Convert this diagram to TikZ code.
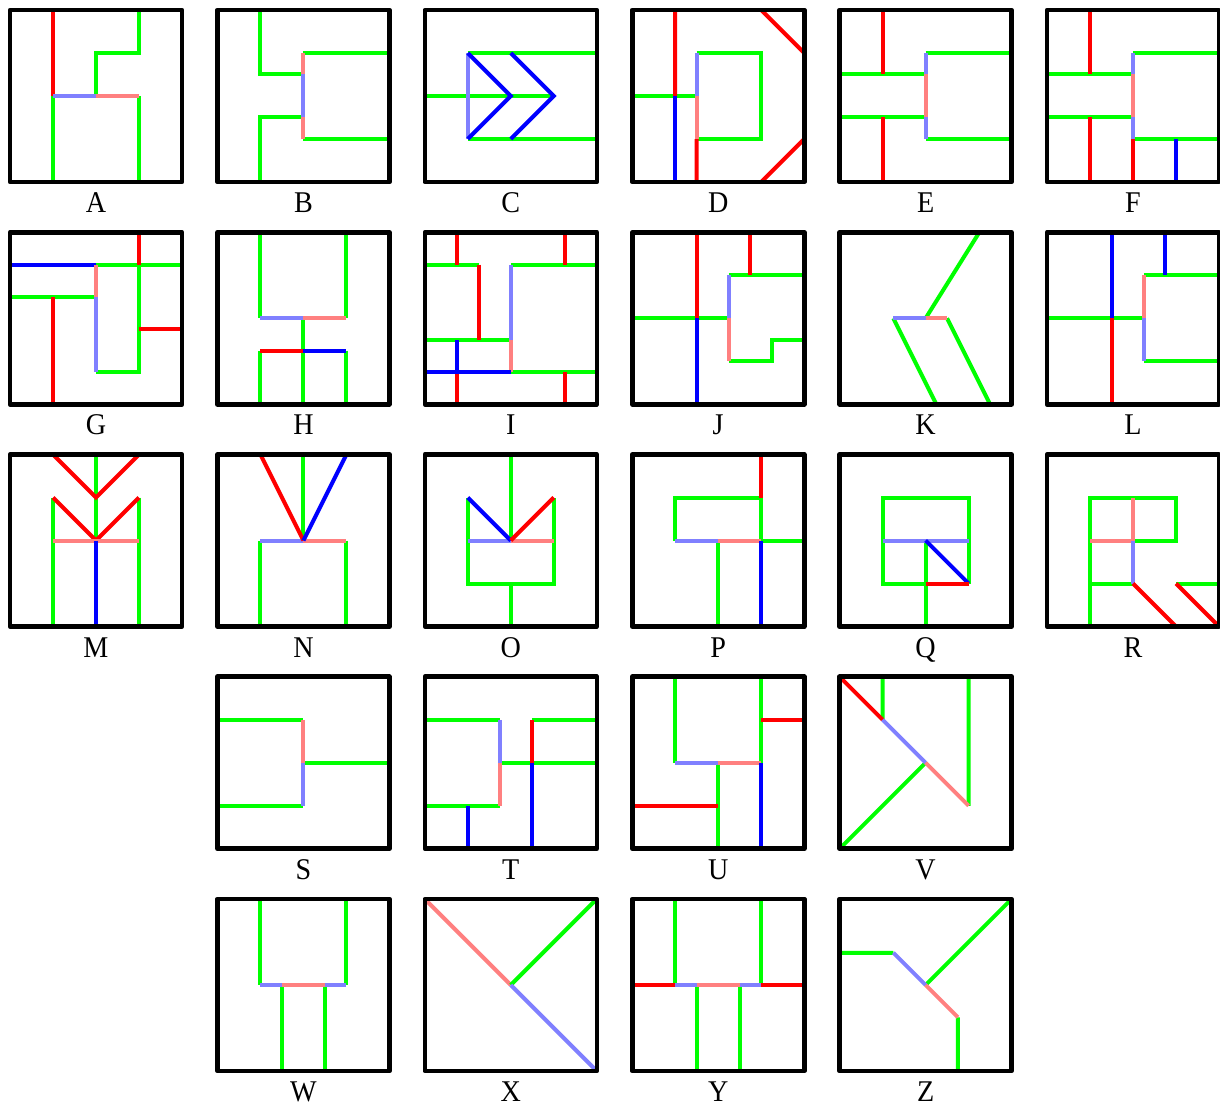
\documentclass[tikz,border=0pt]{standalone}
\usepackage{fontspec}
\usepackage{graphicx}
\setmainfont{Liberation Serif}
\definecolor{cg}{RGB}{0,255,0}
\definecolor{cr}{RGB}{255,0,0}
\definecolor{cb}{RGB}{0,0,255}
\definecolor{clr}{RGB}{255,128,128}
\definecolor{clb}{RGB}{128,128,255}
\newcommand\tallchar[1]{\scalebox{1}[1.07]{#1}}
\tikzset{
  sg/.style={draw=cg, line width=1mm},
  sr/.style={draw=cr, line width=1mm},
  sb/.style={draw=cb, line width=1mm},
  slr/.style={draw=clr, line width=1mm},
  slb/.style={draw=clb, line width=1mm},
  framebox/.style={draw=black, line width=1.15mm, line join=round},
  lab/.style={anchor=base, inner sep=0pt, font=\fontsize{20}{24}\selectfont},
  cellsc/.style={scale=43}
}
\begin{document}
\begin{tikzpicture}[x=0.25mm,y=-0.25mm]
\useasboundingbox (0,0) rectangle (1220,1107);
% ---------- A
\begin{scope}[shift={(10,10)},cellsc]
\draw[sg] (1,2)--(1,4) (2,2)--(2,1)--(3,1)--(3,0) (3,2)--(3,4);
\draw[sr] (1,0)--(1,2);
\draw[slb] (1,2)--(2,2);
\draw[slr] (2,2)--(3,2);
\draw[framebox] (0,0) rectangle (4,4);
\end{scope}
\node[lab] (labA) at (96,212.5) {\tallchar{A}};
% ---------- B
\begin{scope}[shift={(217.4,10)},cellsc]
\draw[sg] (1,0)--(1,1.5)--(2,1.5) (1,4)--(1,2.5)--(2,2.5) (2,1)--(4,1) (2,3)--(4,3);
\draw[slr] (2,1)--(2,1.5) (2,2.5)--(2,3);
\draw[slb] (2,1.5)--(2,2.5);
\draw[framebox] (0,0) rectangle (4,4);
\end{scope}
\node[lab] (labB) at (303.4,212.5) {\tallchar{B}};
% ---------- C
\begin{scope}[shift={(424.8,10)},cellsc]
\draw[sg] (0,2)--(3,2) (1,1)--(4,1) (1,3)--(4,3);
\draw[slb] (1,1)--(1,3);
\draw[sb] (1,1)--(2,2)--(1,3) (2,1)--(3,2)--(2,3);
\draw[framebox] (0,0) rectangle (4,4);
\end{scope}
\node[lab] (labC) at (510.8,212.5) {\tallchar{C}};
% ---------- D
\begin{scope}[shift={(632.2,10)},cellsc]
\draw[sg] (0,2)--(1.5,2) (1.5,1)--(3,1)--(3,3)--(1.5,3);
\draw[sr] (1,0)--(1,2) (1.5,3)--(1.5,4) (3,0)--(4,1) (4,3)--(3,4);
\draw[sb] (1,2)--(1,4);
\draw[slb] (1.5,1)--(1.5,2);
\draw[slr] (1.5,2)--(1.5,3);
\draw[framebox] (0,0) rectangle (4,4);
\end{scope}
\node[lab] (labD) at (718.2,212.5) {\tallchar{D}};
% ---------- E
\begin{scope}[shift={(839.6,10)},cellsc]
\draw[sg] (0,1.5)--(2,1.5) (0,2.5)--(2,2.5) (2,1)--(4,1) (2,3)--(4,3);
\draw[sr] (1,0)--(1,1.5) (1,2.5)--(1,4);
\draw[slb] (2,1)--(2,1.5) (2,2.5)--(2,3);
\draw[slr] (2,1.5)--(2,2.5);
\draw[framebox] (0,0) rectangle (4,4);
\end{scope}
\node[lab] (labE) at (925.6,212.5) {\tallchar{E}};
% ---------- F
\begin{scope}[shift={(1047,10)},cellsc]
\draw[sg] (0,1.5)--(2,1.5) (0,2.5)--(2,2.5) (2,1)--(4,1) (2,3)--(4,3);
\draw[sr] (1,0)--(1,1.5) (1,2.5)--(1,4) (2,3)--(2,4);
\draw[slb] (2,1)--(2,1.5) (2,2.5)--(2,3);
\draw[slr] (2,1.5)--(2,2.5);
\draw[sb] (3,3)--(3,4);
\draw[framebox] (0,0) rectangle (4,4);
\end{scope}
\node[lab] (labF) at (1133,212.5) {\tallchar{F}};
% ---------- G
\begin{scope}[shift={(10,232.25)},cellsc]
\draw[sg] (2,0.75)--(4,0.75) (0,1.5)--(2,1.5) (2,3.25)--(3,3.25)--(3,0.75);
\draw[sb] (0,0.75)--(2,0.75);
\draw[sr] (3,0)--(3,0.75) (1,1.5)--(1,4) (3,2.25)--(4,2.25);
\draw[slr] (2,0.75)--(2,1.5);
\draw[slb] (2,1.5)--(2,3.25);
\draw[framebox] (0,0) rectangle (4,4);
\end{scope}
\node[lab] (labG) at (96,434.75) {\tallchar{G}};
% ---------- H
\begin{scope}[shift={(217.4,232.25)},cellsc]
\draw[sg] (1,0)--(1,2) (3,0)--(3,2) (2,2)--(2,4) (1,2.75)--(1,4) (3,2.75)--(3,4);
\draw[slb] (1,2)--(2,2);
\draw[slr] (2,2)--(3,2);
\draw[sr] (1,2.75)--(2,2.75);
\draw[sb] (2,2.75)--(3,2.75);
\draw[framebox] (0,0) rectangle (4,4);
\end{scope}
\node[lab] (labH) at (303.4,434.75) {\tallchar{H}};
% ---------- I
\begin{scope}[shift={(424.8,232.25)},cellsc]
\draw[sg] (0,0.75)--(1.25,0.75) (2,0.75)--(4,0.75) (0,2.5)--(2,2.5) (2,3.25)--(4,3.25);
\draw[sr] (0.75,0)--(0.75,0.75) (3.25,0)--(3.25,0.75) (1.25,0.75)--(1.25,2.5) (0.75,3.25)--(0.75,4) (3.25,3.25)--(3.25,4);
\draw[slb] (2,0.75)--(2,2.5);
\draw[slr] (2,2.5)--(2,3.25);
\draw[sb] (0.75,2.5)--(0.75,3.25) (0,3.25)--(2,3.25);
\draw[framebox] (0,0) rectangle (4,4);
\end{scope}
\node[lab] (labI) at (510.8,434.75) {\tallchar{I}};
% ---------- J
\begin{scope}[shift={(632.2,232.25)},cellsc]
\draw[sg] (0,2)--(2.25,2) (2.25,1)--(4,1) (2.25,3)--(3.25,3)--(3.25,2.5)--(4,2.5);
\draw[sr] (1.5,0)--(1.5,2) (2.75,0)--(2.75,1);
\draw[sb] (1.5,2)--(1.5,4);
\draw[slb] (2.25,1)--(2.25,2);
\draw[slr] (2.25,2)--(2.25,3);
\draw[framebox] (0,0) rectangle (4,4);
\end{scope}
\node[lab] (labJ) at (718.2,434.75) {\tallchar{J}};
% ---------- K
\begin{scope}[shift={(839.6,232.25)},cellsc]
\draw[sg] (2,2)--(3.25,0) (1.25,2)--(2.25,4) (2.5,2)--(3.5,4);
\draw[slb] (1.25,2)--(2,2);
\draw[slr] (2,2)--(2.5,2);
\draw[framebox] (0,0) rectangle (4,4);
\end{scope}
\node[lab] (labK) at (925.6,434.75) {\tallchar{K}};
% ---------- L
\begin{scope}[shift={(1047,232.25)},cellsc]
\draw[sg] (0,2)--(2.25,2) (2.25,1)--(4,1) (2.25,3)--(4,3);
\draw[sb] (1.5,0)--(1.5,2) (2.75,0)--(2.75,1);
\draw[sr] (1.5,2)--(1.5,4);
\draw[slr] (2.25,1)--(2.25,2);
\draw[slb] (2.25,2)--(2.25,3);
\draw[framebox] (0,0) rectangle (4,4);
\end{scope}
\node[lab] (labL) at (1133,434.75) {\tallchar{L}};
% ---------- M
\begin{scope}[shift={(10,454.5)},cellsc]
\draw[sg] (2,0)--(2,2) (1,1)--(1,4) (3,1)--(3,4);
\draw[sr] (1,0)--(2,1)--(3,0) (1,1)--(2,2)--(3,1);
\draw[slr] (1,2)--(3,2);
\draw[sb] (2,2)--(2,4);
\draw[framebox] (0,0) rectangle (4,4);
\end{scope}
\node[lab] (labM) at (96,657) {\tallchar{M}};
% ---------- N
\begin{scope}[shift={(217.4,454.5)},cellsc]
\draw[sg] (2,0)--(2,2) (1,2)--(1,4) (3,2)--(3,4);
\draw[slb] (1,2)--(2,2);
\draw[slr] (2,2)--(3,2);
\draw[sr] (1,0)--(2,2);
\draw[sb] (2,2)--(3,0);
\draw[framebox] (0,0) rectangle (4,4);
\end{scope}
\node[lab] (labN) at (303.4,657) {\tallchar{N}};
% ---------- O
\begin{scope}[shift={(424.8,454.5)},cellsc]
\draw[sg] (2,0)--(2,2) (1,1)--(1,3)--(3,3)--(3,1) (2,3)--(2,4);
\draw[slb] (1,2)--(2,2);
\draw[slr] (2,2)--(3,2);
\draw[sb] (1,1)--(2,2);
\draw[sr] (2,2)--(3,1);
\draw[framebox] (0,0) rectangle (4,4);
\end{scope}
\node[lab] (labO) at (510.8,657) {\tallchar{O}};
% ---------- P
\begin{scope}[shift={(632.2,454.5)},cellsc]
\draw[sg] (1,2)--(1,1)--(3,1)--(3,2) (3,2)--(4,2) (2,2)--(2,4);
\draw[sr] (3,0)--(3,1);
\draw[slb] (1,2)--(2,2);
\draw[slr] (2,2)--(3,2);
\draw[sb] (3,2)--(3,4);
\draw[framebox] (0,0) rectangle (4,4);
\end{scope}
\node[lab] (labP) at (718.2,657) {\tallchar{P}};
% ---------- Q
\begin{scope}[shift={(839.6,454.5)},cellsc]
\draw[sg] (2,3)--(1,3)--(1,1)--(3,1)--(3,3) (2,2)--(2,4);
\draw[slb] (1,2)--(3,2);
\draw[sb] (2,2)--(3,3);
\draw[sr] (2,3)--(3,3);
\draw[framebox] (0,0) rectangle (4,4);
\end{scope}
\node[lab] (labQ) at (925.6,657) {\tallchar{Q}};
% ---------- R
\begin{scope}[shift={(1047,454.5)},cellsc]
\draw[sg] (1,4)--(1,1)--(3,1)--(3,2)--(2,2) (1,3)--(2,3) (3,3)--(4,3);
\draw[slr] (2,1)--(2,2) (1,2)--(2,2);
\draw[slb] (2,2)--(2,3);
\draw[sr] (2,3)--(3,4) (3,3)--(4,4);
\draw[framebox] (0,0) rectangle (4,4);
\end{scope}
\node[lab] (labR) at (1133,657) {\tallchar{R}};
% ---------- S
\begin{scope}[shift={(217.4,676.75)},cellsc]
\draw[sg] (0,1)--(2,1) (2,2)--(4,2) (0,3)--(2,3);
\draw[slr] (2,1)--(2,2);
\draw[slb] (2,2)--(2,3);
\draw[framebox] (0,0) rectangle (4,4);
\end{scope}
\node[lab] (labS) at (303.4,879.25) {\tallchar{S}};
% ---------- T
\begin{scope}[shift={(424.8,676.75)},cellsc]
\draw[sg] (0,1)--(1.75,1) (1.75,2)--(4,2) (2.5,1)--(4,1) (0,3)--(1.75,3);
\draw[slb] (1.75,1)--(1.75,2);
\draw[slr] (1.75,2)--(1.75,3);
\draw[sr] (2.5,1)--(2.5,2);
\draw[sb] (2.5,2)--(2.5,4) (1,3)--(1,4);
\draw[framebox] (0,0) rectangle (4,4);
\end{scope}
\node[lab] (labT) at (510.8,879.25) {\tallchar{T}};
% ---------- U
\begin{scope}[shift={(632.2,676.75)},cellsc]
\draw[sg] (1,0)--(1,2) (3,0)--(3,2) (2,2)--(2,4);
\draw[slb] (1,2)--(2,2);
\draw[slr] (2,2)--(3,2);
\draw[sr] (3,1)--(4,1) (0,3)--(2,3);
\draw[sb] (3,2)--(3,4);
\draw[framebox] (0,0) rectangle (4,4);
\end{scope}
\node[lab] (labU) at (718.2,879.25) {\tallchar{U}};
% ---------- V
\begin{scope}[shift={(839.6,676.75)},cellsc]
\draw[sg] (1,0)--(1,1) (3,0)--(3,3) (2,2)--(0,4);
\draw[sr] (0,0)--(1,1);
\draw[slb] (1,1)--(2,2);
\draw[slr] (2,2)--(3,3);
\draw[framebox] (0,0) rectangle (4,4);
\end{scope}
\node[lab] (labV) at (925.6,879.25) {\tallchar{V}};
% ---------- W
\begin{scope}[shift={(217.4,899)},cellsc]
\draw[sg] (1,0)--(1,2) (3,0)--(3,2) (1.5,2)--(1.5,4) (2.5,2)--(2.5,4);
\draw[slb] (1,2)--(1.5,2) (2.5,2)--(3,2);
\draw[slr] (1.5,2)--(2.5,2);
\draw[framebox] (0,0) rectangle (4,4);
\end{scope}
\node[lab] (labW) at (303.4,1101.5) {\tallchar{W}};
% ---------- X
\begin{scope}[shift={(424.8,899)},cellsc]
\draw[slr] (0,0)--(2,2);
\draw[sg] (2,2)--(4,0);
\draw[slb] (2,2)--(4,4);
\draw[framebox] (0,0) rectangle (4,4);
\end{scope}
\node[lab] (labX) at (510.8,1101.5) {\tallchar{X}};
% ---------- Y
\begin{scope}[shift={(632.2,899)},cellsc]
\draw[sg] (1,0)--(1,2) (3,0)--(3,2) (1.5,2)--(1.5,4) (2.5,2)--(2.5,4);
\draw[sr] (0,2)--(1,2) (3,2)--(4,2);
\draw[slb] (1,2)--(1.5,2) (2.5,2)--(3,2);
\draw[slr] (1.5,2)--(2.5,2);
\draw[framebox] (0,0) rectangle (4,4);
\end{scope}
\node[lab] (labY) at (718.2,1101.5) {\tallchar{Y}};
% ---------- Z
\begin{scope}[shift={(839.6,899)},cellsc]
\draw[sg] (0,1.25)--(1.25,1.25) (2,2)--(4,0) (2.75,2.75)--(2.75,4);
\draw[slb] (1.25,1.25)--(2,2);
\draw[slr] (2,2)--(2.75,2.75);
\draw[framebox] (0,0) rectangle (4,4);
\end{scope}
\node[lab] (labZ) at (925.6,1101.5) {\tallchar{Z}};
\end{tikzpicture}
\end{document}
